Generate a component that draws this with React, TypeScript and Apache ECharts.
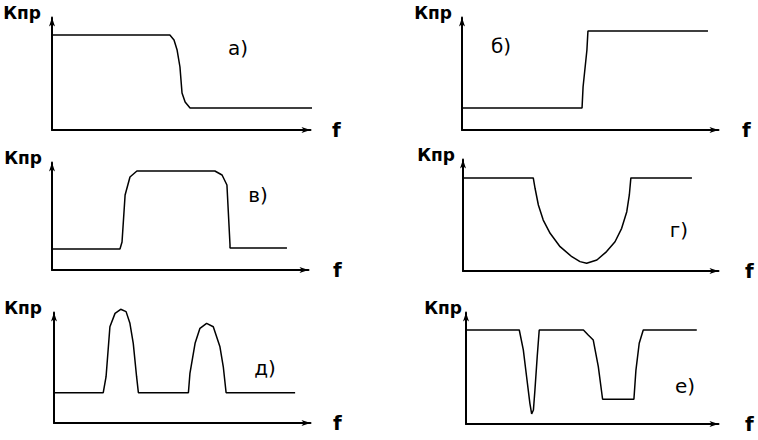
import React, { useEffect, useRef } from "react";
import * as echarts from "echarts";

// Panel labels and axis names
const panelLabels = ["а)", "б)", "в)", "г)", "д)", "е)"];
const yAxisName = "Кпр";
const xAxisName = "f";

// Frequency (f, 0..10 of axis length) and gain (Кпр, 0..10 of axis height)
const aF = [0, 4.56, 4.72, 4.84, 4.95, 5.03, 5.15, 5.34, 10.06];
const aK = [8.44, 8.44, 8.0, 7.11, 5.6, 3.29, 2.49, 1.96, 1.96];

const bF = [0, 4.68, 4.72, 4.87, 4.91, 9.59];
const bK = [1.96, 1.96, 3.82, 7.11, 8.8, 8.8];

const vF = [0, 2.65, 2.73, 2.85, 3.04, 3.31, 6.35, 6.63, 6.82, 6.94, 6.94, 9.16];
const vK = [1.95, 1.95, 2.6, 6.98, 8.65, 9.21, 9.21, 8.84, 7.91, 2.33, 2.05, 2.05];

const gF = [0, 2.75, 2.82, 2.95, 3.14, 3.41, 3.8, 4.26, 4.58, 4.84, 5.24, 5.62, 5.95, 6.21, 6.41, 6.51, 6.57, 8.96];
const gK = [8.35, 8.35, 7.42, 5.92, 4.57, 3.38, 2.18, 1.28, 0.84, 0.69, 0.99, 1.74, 2.62, 3.83, 5.32, 6.82, 8.35, 8.35];

const dF = [0, 1.92, 2.03, 2.18, 2.38, 2.6, 2.81, 2.96, 3.09, 3.22, 3.29, 5.24, 5.3, 5.5, 5.69, 5.95, 6.21, 6.47, 6.6, 6.71, 9.4];
const dK = [2.74, 2.74, 4.19, 8.71, 9.92, 10.29, 10.08, 9.02, 7.21, 4.19, 2.74, 2.74, 4.5, 7.21, 8.57, 9.02, 8.71, 6.9, 5.09, 2.74, 2.74];

const eF = [0, 2.11, 2.27, 2.4, 2.53, 2.6, 2.67, 2.73, 2.82, 2.9, 4.65, 4.84, 5.04, 5.24, 5.41, 6.65, 6.73, 6.86, 7.02, 9.14];
const eK = [8.43, 8.43, 6.64, 4.24, 1.85, 0.9, 1.26, 3.05, 6.03, 8.43, 8.43, 7.98, 7.53, 5.14, 2.22, 2.22, 4.84, 7.24, 8.43, 8.43];

const panelF = [aF, bF, vF, gF, dF, eF];
const panelK = [aK, bK, vK, gK, dK, eK];

// Layout (pixels)
const grids = [
  { left: 52, top: 17.5, width: 258.5, height: 112.5 },
  { left: 462, top: 17.5, width: 256.5, height: 112.5 },
  { left: 52, top: 162.5, width: 256.5, height: 107.5 },
  { left: 463, top: 159.5, width: 255.5, height: 111.5 },
  { left: 54, top: 312.5, width: 256.5, height: 110.5 },
  { left: 466, top: 312.5, width: 252.5, height: 111.5 },
];
const yNamePad = [11, 10, 10, 8, 12, 4];
const xNameGap = [21.5, 23.5, 24.5, 26.5, 22.5, 26.5];
const labelPos = [
  [238, 48],
  [501, 46],
  [258, 195],
  [679, 230],
  [265, 368],
  [685, 386],
];

const FONT = "DejaVu Sans";

export default function App() {
  const ref = useRef<HTMLDivElement>(null);
  useEffect(() => {
    if (!ref.current) return;
    const chart = echarts.init(ref.current, null, { renderer: "svg" });
    const axisLine = {
      show: true,
      onZero: false,
      symbol: ["none", "arrow"],
      symbolSize: [4.5, 9],
      lineStyle: { color: "#000", width: 2 },
    };
    const option: any = {
      animation: false,
      backgroundColor: "#fff",
      grid: grids.map((g) => ({ ...g, containLabel: false })),
      xAxis: grids.map((_, i) => ({
        type: "value",
        gridIndex: i,
        min: 0,
        max: 10,
        axisLine,
        axisTick: { show: false },
        axisLabel: { show: false },
        splitLine: { show: false },
        name: xAxisName,
        nameLocation: "end",
        nameGap: xNameGap[i],
        nameTextStyle: {
          fontFamily: FONT,
          fontWeight: "bold",
          fontSize: 20,
          color: "#000",
          verticalAlign: "middle",
          align: "left",
        },
      })),
      yAxis: grids.map((_, i) => ({
        type: "value",
        gridIndex: i,
        min: 0,
        max: 10,
        axisLine,
        axisTick: { show: false },
        axisLabel: { show: false },
        splitLine: { show: false },
        name: yAxisName,
        nameLocation: "end",
        nameGap: 5,
        nameTextStyle: {
          fontFamily: FONT,
          fontWeight: "bold",
          fontSize: 17,
          color: "#000",
          align: "right",
          verticalAlign: "middle",
          padding: [0, yNamePad[i], 0, 0],
        },
      })),
      series: panelF.map((fs, i) => ({
        type: "line",
        xAxisIndex: i,
        yAxisIndex: i,
        data: fs.map((f, j) => [f, panelK[i][j]]),
        showSymbol: false,
        symbol: "none",
        clip: false,
        lineStyle: { color: "#000", width: 1.5 },
      })),
      graphic: panelLabels.map((t, i) => ({
        type: "text",
        x: labelPos[i][0],
        y: labelPos[i][1],
        style: {
          text: t,
          fontFamily: FONT,
          fontSize: 20,
          fill: "#000",
          textAlign: "center",
          textVerticalAlign: "middle",
        },
      })),
    };
    chart.setOption(option);
    return () => chart.dispose();
  }, []);
  return (
    <div
      ref={ref}
      style={{ position: "absolute", left: 0, top: 0, width: 758, height: 440, background: "#fff" }}
    />
  );
}
